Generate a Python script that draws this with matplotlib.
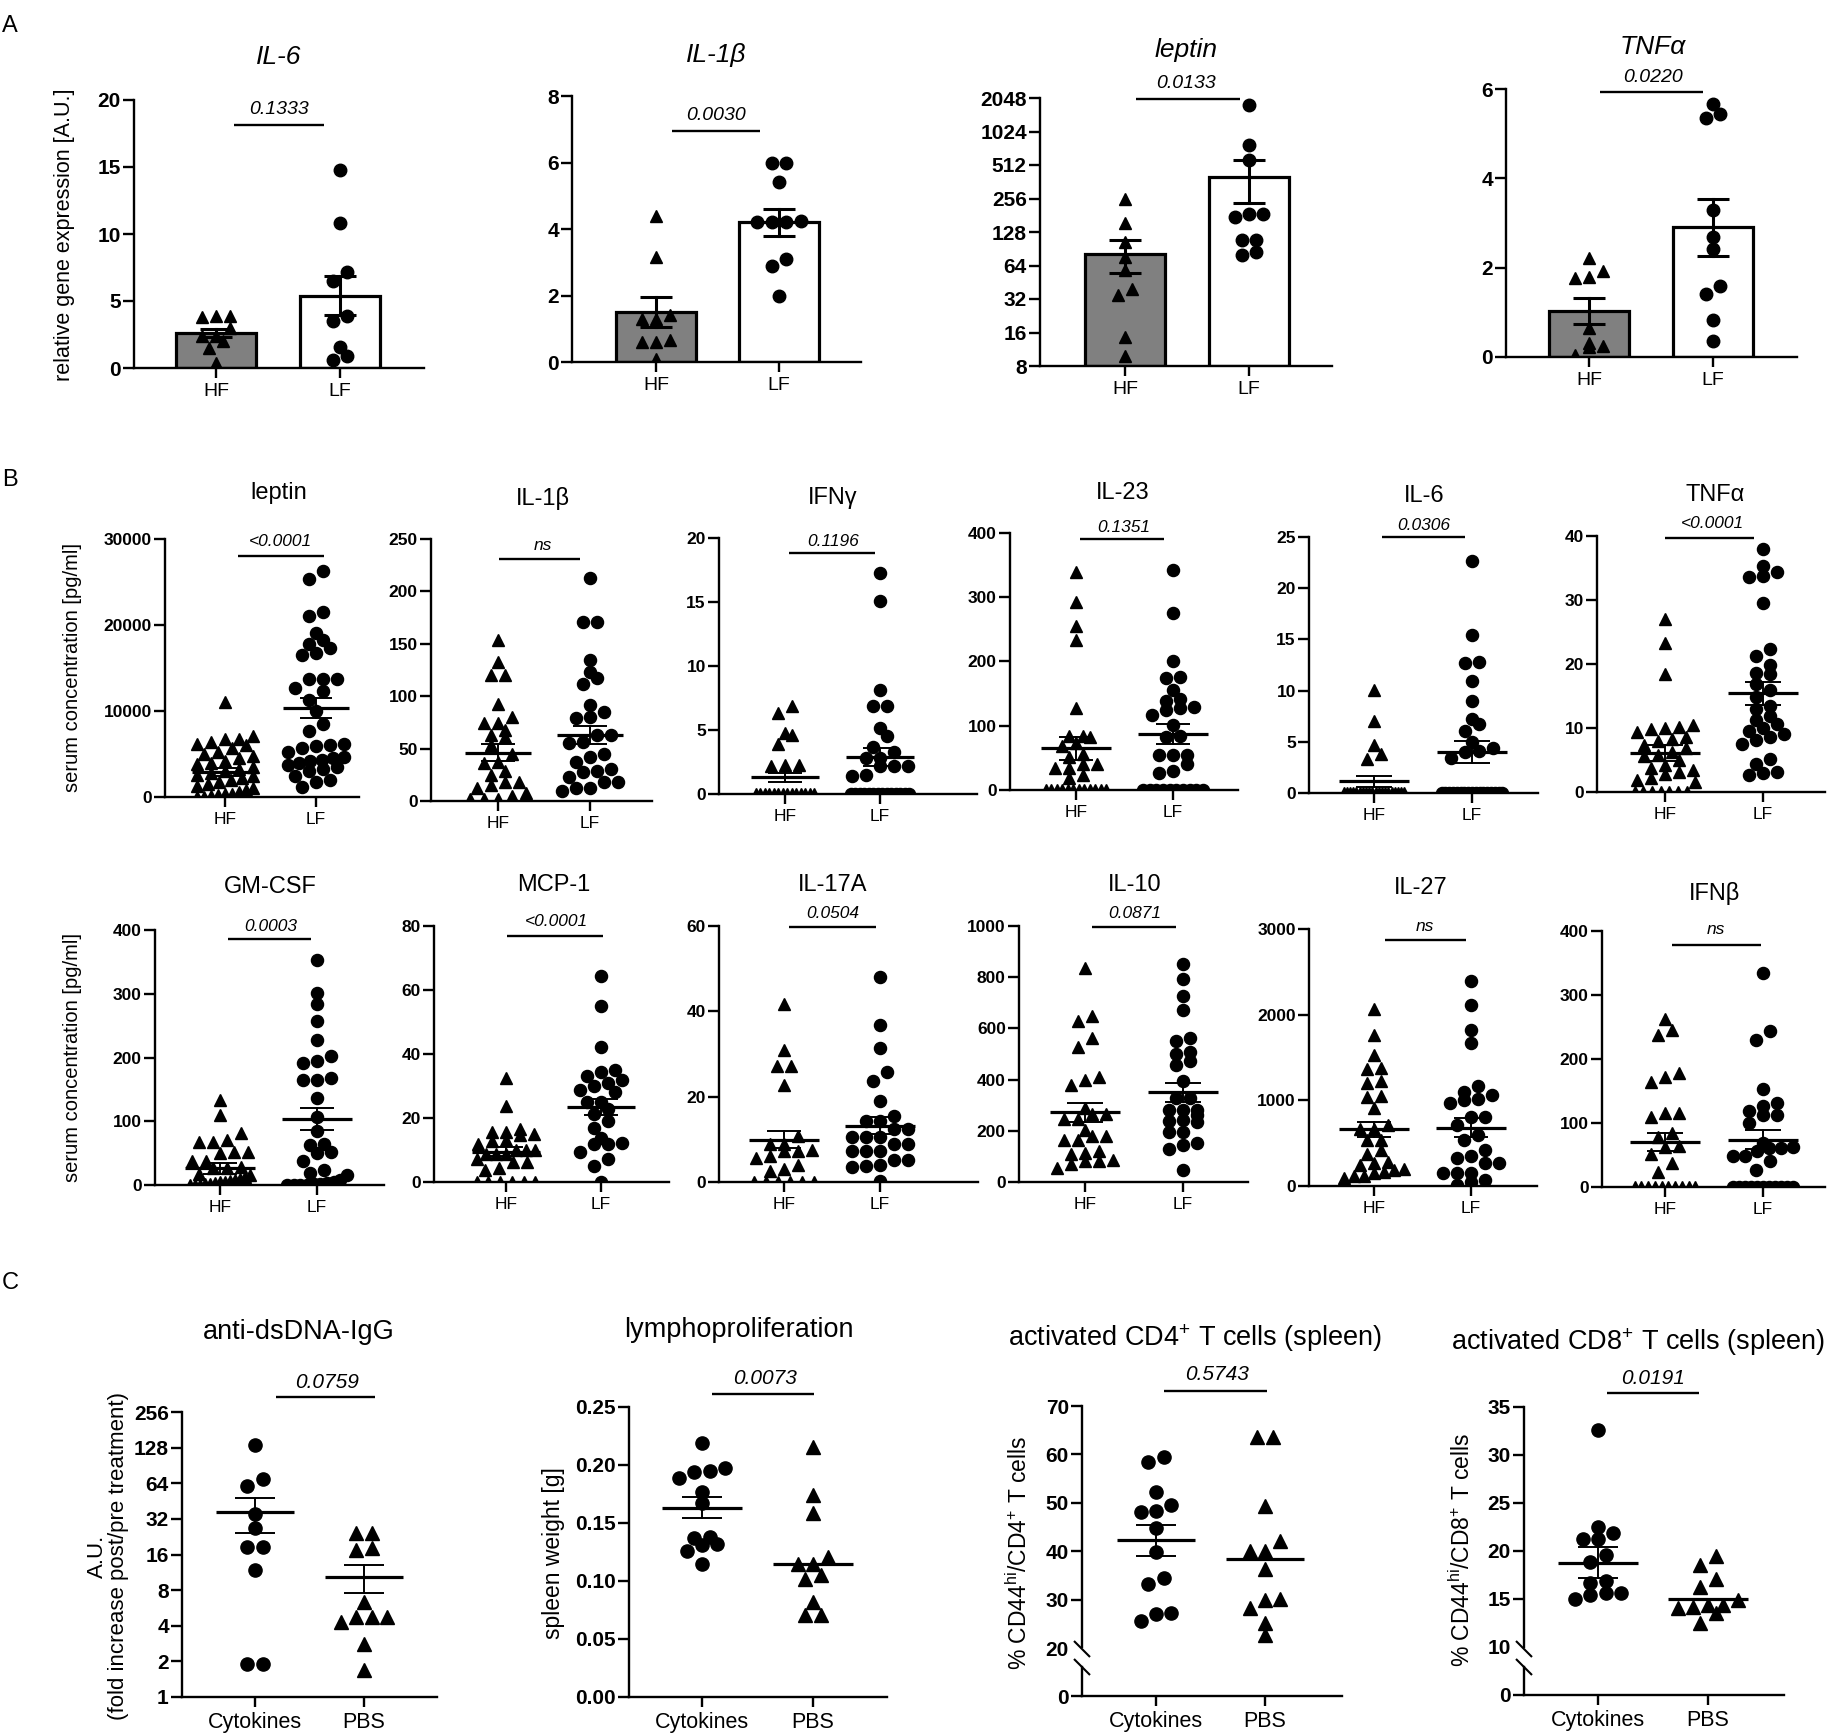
import numpy as np
import matplotlib
matplotlib.use("Agg")
import matplotlib.pyplot as plt
from matplotlib.lines import Line2D

plt.rcParams["font.family"] = ["Liberation Sans", "DejaVu Sans"]
plt.rcParams["mathtext.fontset"] = "custom"
plt.rcParams["mathtext.rm"] = "Liberation Sans"
plt.rcParams["mathtext.it"] = "Liberation Sans:italic"

W, H = 1831, 1736

# ---------------------------------------------------------------- data
# A: relative gene expression, bar = mean, whisker = SEM
a_il6_hf = [3.8, 3.9, 3.9, 3.0, 2.4, 2.4, 1.5, 2.0, 0.4]
a_il6_lf = [14.8, 10.8, 7.2, 6.5, 3.5, 3.9, 0.6, 0.9, 1.6]
a_il6_mean = [2.6, 5.4]
a_il6_sem = [0.32, 1.45]

a_il1b_hf = [4.4, 3.15, 1.3, 1.4, 1.3, 0.6, 0.65, 0.1, 0.6]
a_il1b_lf = [6.0, 6.0, 5.4, 4.2, 4.25, 4.2, 4.2, 3.1, 2.9, 2.0]
a_il1b_mean = [1.5, 4.2]
a_il1b_sem = [0.45, 0.41]

a_lep_hf = [255, 154, 104, 77, 58, 35, 39, 14.6, 9.8]
a_lep_lf = [1760, 777, 564, 175, 187, 187, 108, 108, 79, 85]
a_lep_mean = [82, 400]
a_lep_sem = [27, 168]

a_tnf_hf = [2.21, 1.77, 1.92, 1.8, 0.65, 0.31, 0.24, 0.22, 0.05]
a_tnf_lf = [5.66, 5.34, 5.44, 3.3, 2.68, 2.41, 1.42, 1.6, 0.82, 0.35]
a_tnf_mean = [1.02, 2.9]
a_tnf_sem = [0.29, 0.63]

# B: serum concentration [pg/ml], line = mean, whisker = SEM
b_lep_hf = [11100, 7100, 6800, 6700, 6400, 6200, 6000, 5700, 5200, 5000, 4800, 4500,
            4200, 4000, 3800, 3500, 3300, 3000, 2800, 2600, 2400, 2200, 2000, 1800,
            1500, 1300, 1000, 800, 600, 400, 300, 200, 100, 50, 0]
b_lep_lf = [26300, 25300, 21500, 21000, 19100, 18300, 17800, 17300, 16700, 16500,
            13700, 13700, 13700, 12700, 12300, 11300, 10000, 8500, 7700, 6200, 6000,
            5900, 5700, 5200, 4700, 4500, 4300, 4200, 4000, 3700, 3500, 3300, 3000,
            2500, 2000, 1800, 1200]
b_lep_mean = [2900, 10350]
b_lep_sem = [450, 1150]

b_il1b_hf = [154, 133, 120, 120, 93, 80, 74, 74, 68, 61, 63, 53, 45, 29, 36, 37,
             18, 18, 12, 15, 5, 2, 2, 2, 8, 25]
b_il1b_lf = [213, 171, 171, 135, 123, 112, 117, 92, 85, 79, 80, 63, 63, 56, 55, 37,
             42, 45, 31, 29, 23, 28, 18, 18, 12, 12, 10]
b_il1b_mean = [46, 63]
b_il1b_sem = [8, 9]

b_ifng_hf = [6.9, 6.3, 4.8, 4.6, 3.9, 2.2, 2.3, 2.3] + [0] * 14
b_ifng_lf = [17.3, 15.1, 8.15, 6.85, 6.85, 5.16, 4.5, 3.7, 2.8, 3.3, 2.8, 2.2, 2.2,
             2.2, 1.4, 1.5] + [0] * 14
b_ifng_mean = [1.3, 2.86]
b_ifng_sem = [0.37, 0.7]

b_il23_hf = [339, 293, 256, 234, 127, 84, 84, 83, 68, 73, 52, 56, 40, 35, 34, 40,
             18, 23] + [0] * 12
b_il23_lf = [342, 275, 201, 174, 176, 155, 141, 139, 129, 127, 117, 124, 101, 84, 82,
             54, 54, 41, 54, 30, 27] + [0] * 10
b_il23_mean = [65, 87]
b_il23_sem = [18, 16]

b_il6_hf = [10.1, 7.0, 4.7, 3.8, 3.3] + [0] * 20
b_il6_lf = [22.7, 15.4, 12.7, 12.8, 10.9, 9.0, 7.2, 6.1, 6.7, 5.0, 4.4, 4.1, 4.0,
            3.4] + [0] * 17
b_il6_mean = [1.14, 4.0]
b_il6_sem = [0.52, 1.1]

b_tnf_hf = [27.1, 23.3, 18.4, 10.4, 10.2, 10.0, 9.9, 9.4, 8.6, 8.3, 7.9, 7.4, 6.9,
            6.2, 5.8, 5.6, 5.0, 4.2, 3.8, 3.4, 3.1, 2.8, 2.2, 1.8, 1.5] + [0] * 7
b_tnf_lf = [37.9, 35.3, 34.4, 33.6, 33.8, 29.6, 22.3, 21.3, 19.9, 18.6, 18.4, 16.8,
            15.9, 14.8, 13.4, 12.9, 11.8, 11.2, 10.6, 10.0, 9.5, 9.0, 8.6, 8.2, 7.5,
            5.1, 4.4, 3.2, 3.0, 2.7]
b_tnf_mean = [6.1, 15.4]
b_tnf_sem = [1.3, 1.8]

b_gm_hf = [134, 110, 81, 68, 68, 71, 52, 50, 52, 37, 37, 26, 29, 26, 18, 15, 12, 10,
           8, 6, 5, 4, 3, 2, 1, 0, 0, 0]
b_gm_lf = [353, 301, 284, 258, 228, 202, 191, 195, 165, 168, 165, 136, 107, 84, 65,
           63, 50, 51, 37, 24, 19, 16, 8, 5, 3, 2, 1, 0, 0, 0, 0]
b_gm_mean = [26, 104]
b_gm_sem = [8, 17]

b_mcp_hf = [32.6, 23.7, 16.7, 15.6, 15.6, 14.6, 15.1, 13.2, 12.8, 12.0, 10.1, 10.1,
            10.1, 8.7, 8.9, 8.7, 6.3, 6.3, 7.3, 4.5, 3.6] + [0] * 6
b_mcp_lf = [64.3, 54.9, 42.2, 34.4, 34.9, 31.0, 31.8, 33.1, 28.2, 28.7, 29.9, 25.0,
            25.0, 22.9, 21.4, 19.1, 17.0, 12.2, 12.0, 12.0, 13.6, 9.4, 7.3, 4.9, 0]
b_mcp_mean = [9.4, 23.5]
b_mcp_sem = [1.4, 2.5]

b_il17_hf = [41.7, 31.0, 27.2, 27.2, 22.8, 10.7, 9.0, 9.0, 7.2, 7.2, 7.6, 5.6, 6.0,
             2.5, 3.0, 4.1] + [0] * 6
b_il17_lf = [48.0, 36.8, 31.5, 25.7, 23.6, 19.1, 15.4, 14.4, 14.4, 12.4, 12.4, 10.5,
             10.5, 10.5, 9.0, 9.0, 7.2, 7.2, 5.2, 7.2, 5.2, 3.5, 3.8, 4.1, 0.3]
b_il17_mean = [9.9, 13.2]
b_il17_sem = [2.0, 2.0]

b_il10_hf = [835, 627, 649, 562, 529, 380, 410, 397, 289, 267, 267, 246, 246, 204,
             181, 181, 165, 163, 120, 111, 113, 72, 87, 81, 81, 55]
b_il10_lf = [850, 792, 728, 670, 551, 562, 507, 501, 471, 458, 393, 282, 330, 328,
             282, 282, 263, 237, 233, 241, 194, 194, 152, 146, 129, 46]
b_il10_mean = [273, 351]
b_il10_sem = [37, 37]

b_il27_hf = [2065, 1765, 1530, 1364, 1375, 1200, 1220, 1045, 1036, 908, 713, 662, 662,
             538, 538, 421, 374, 284, 273, 245, 195, 168, 187, 156, 117, 90, 117]
b_il27_lf = [2388, 2115, 1823, 1675, 1169, 1064, 1102, 1013, 1005, 974, 810, 810, 713,
             596, 538, 323, 421, 351, 265, 265, 148, 156, 156, 70, 51, 12]
b_il27_mean = [662, 682]
b_il27_sem = [88, 111]

b_ifnb_hf = [263, 237, 245, 164, 178, 172, 110, 115, 115, 84, 78, 63, 64, 52, 37,
             23] + [0] * 10
b_ifnb_lf = [335, 243, 229, 153, 127, 132, 118, 113, 113, 100, 61, 69, 63, 61, 56, 48,
             48, 40, 26] + [0] * 11
b_ifnb_mean = [70, 74]
b_ifnb_sem = [14, 15]

# C: treatment experiment (Cytokines vs PBS)
c_ds_cyt = [135, 70, 61, 35, 27, 18.5, 18.5, 11.9, 1.9, 1.9]
c_ds_pbs = [24.3, 24.3, 17.4, 18.3, 6.35, 4.3, 4.7, 4.7, 4.7, 2.82, 1.68]
c_ds_mean = [36.5, 10.3]
c_ds_sem = [12, 2.7]

c_sp_cyt = [0.219, 0.194, 0.195, 0.197, 0.189, 0.177, 0.167, 0.138, 0.131, 0.132,
            0.137, 0.126, 0.115]
c_sp_pbs = [0.2155, 0.174, 0.159, 0.115, 0.115, 0.121, 0.102, 0.105, 0.082, 0.0704,
            0.0704]
c_sp_mean = [0.163, 0.1145]
c_sp_sem = [0.009, 0]

c_cd4_cyt = [59.4, 58.5, 52.3, 48.4, 48.2, 49.5, 44.9, 39.9, 34.5, 33.3, 25.7, 27.3,
             27.1]
c_cd4_pbs = [63.7, 63.6, 49.4, 42.1, 40.2, 40.1, 36.3, 30.0, 30.2, 28.4, 25.2, 22.8]
c_cd4_mean = [42.3, 38.5]
c_cd4_sem = [3.2, 0]

c_cd8_cyt = [32.6, 21.2, 21.9, 22.5, 21.3, 19.6, 18.9, 16.7, 16.9, 15.0, 15.6, 15.4,
             15.6]
c_cd8_pbs = [19.5, 18.5, 17.1, 16.2, 14.9, 14.35, 14.35, 14.1, 14.2, 12.5, 13.5]
c_cd8_mean = [18.8, 15.05]
c_cd8_sem = [1.6, 0]

# tick values / labels
groups_diet = ["HF", "LF"]
groups_trt = ["Cytokines", "PBS"]
t_a_il6 = [0, 5, 10, 15, 20]
t_a_il1b = [0, 2, 4, 6, 8]
t_a_lep = [8, 16, 32, 64, 128, 256, 512, 1024, 2048]
t_a_tnf = [0, 2, 4, 6]
t_b_lep = [0, 10000, 20000, 30000]
t_b_il1b = [0, 50, 100, 150, 200, 250]
t_b_ifng = [0, 5, 10, 15, 20]
t_b_il23 = [0, 100, 200, 300, 400]
t_b_il6 = [0, 5, 10, 15, 20, 25]
t_b_tnf = [0, 10, 20, 30, 40]
t_b_gm = [0, 100, 200, 300, 400]
t_b_mcp = [0, 20, 40, 60, 80]
t_b_il17 = [0, 20, 40, 60]
t_b_il10 = [0, 200, 400, 600, 800, 1000]
t_b_il27 = [0, 1000, 2000, 3000]
t_b_ifnb = [0, 100, 200, 300, 400]
t_c_ds = [1, 2, 4, 8, 16, 32, 64, 128, 256]
t_c_sp = [0, 0.05, 0.10, 0.15, 0.20, 0.25]
t_c_sp_lab = ["0.00", "0.05", "0.10", "0.15", "0.20", "0.25"]
t_c_cd4 = [0, 20, 30, 40, 50, 60, 70]
t_c_cd8 = [0, 10, 15, 20, 25, 30, 35]


# ---------------------------------------------------------------- helpers
fig = plt.figure(figsize=(W / 100, H / 100), dpi=100)


def ftext(x, y, s, **kw):
    kw.setdefault("ha", "center")
    kw.setdefault("va", "center")
    fig.text(x / W, 1 - y / H, s, **kw)


def fline(x0, x1, y0, y1=None, lw=1.7):
    y1 = y0 if y1 is None else y1
    fig.add_artist(Line2D([x0 / W, x1 / W], [1 - y0 / H, 1 - y1 / H],
                          transform=fig.transFigure, color="k", lw=lw,
                          solid_capstyle="butt"))


def swarm_x(ax, xc, vals, ms, maxhalf=0.31):
    """GraphPad-like row layout: points in the same row spread sideways."""
    v = np.asarray(vals, float)
    ypx = ax.transData.transform(np.column_stack([np.full(len(v), xc), v]))[:, 1]
    unit = ax.transData.transform([[1, 0]])[0, 0] - ax.transData.transform([[0, 0]])[0, 0]
    d = ms * 100 / 72
    order = np.argsort(ypx, kind="stable")
    rows, cur, base = [], [order[0]], ypx[order[0]]
    for i in order[1:]:
        if ypx[i] - base < d * 0.85:
            cur.append(i)
        else:
            rows.append(cur)
            cur, base = [i], ypx[i]
    rows.append(cur)
    offs = np.zeros(len(v))
    for row in rows:
        n = len(row)
        if n < 2:
            continue
        step = min(d * 1.15, 2 * maxhalf * unit / (n - 1))
        for k, i in enumerate(row):
            offs[i] = (k - (n - 1) / 2) * step
    return xc + offs / unit


def brk_scale(b, k):
    fwd = lambda y: np.where(y < b, y * k, b * k + (y - b))
    inv = lambda z: np.where(z < b * k, z / k, z - b * k + b)
    return fwd, inv


def make_axes(p, fs_tick, fs_x):
    L, T, R, B = p["box"]
    g0, g1 = p["g"]
    ax = fig.add_axes([L / W, 1 - B / H, (R - L) / W, (B - T) / H])
    ax.set_xlim((L - g0) / (g1 - g0), (R - g0) / (g1 - g0))
    sc = p.get("scale", "linear")
    ticks = p["yt"]
    if sc == "log2":
        ax.set_yscale("log", base=2)
    elif sc == "brk":
        ax.set_yscale("function", functions=brk_scale(*p["brk"]))
    ax.set_ylim(ticks[0], ticks[-1])
    ax.set_yticks(ticks)
    ax.set_yticklabels(p.get("ytl", [str(t) for t in ticks]),
                       fontweight="bold", fontsize=fs_tick)
    ax.minorticks_off()
    ax.set_xticks([0, 1])
    ax.set_xticklabels(p["xl"], fontsize=fs_x)
    for s in ("top", "right"):
        ax.spines[s].set_visible(False)
    for s in ("left", "bottom"):
        ax.spines[s].set_linewidth(1.7)
        ax.spines[s].set_zorder(6)
    ax.tick_params(axis="y", length=8, width=1.7, pad=1.5)
    ax.tick_params(axis="x", length=7, width=1.7, pad=4)
    ax.patch.set_alpha(0)
    return ax


def draw_text(p, fs_title, fs_p, italic_title=False):
    t, tx, ty = p["title"]
    ftext(tx, ty, t, fontsize=fs_title, style="italic" if italic_title else "normal")
    s, sx, sy = p["p"]
    ftext(sx, sy, s, fontsize=fs_p, style="italic")
    x0, x1, ly = p["line"]
    fline(x0, x1, ly)


def draw_scatter(ax, p, ms=8.7, mhalf=0.36, chalf=0.18):
    for i, (vals, mk) in enumerate(zip(p["vals"], p["mk"])):
        xs = swarm_x(ax, i, vals, ms)
        ax.plot(xs, vals, mk, ms=ms, color="k", mec="k", ls="none", zorder=3)
    for i, (m, s) in enumerate(zip(p["mean"], p["sem"])):
        ax.plot([i - mhalf, i + mhalf], [m, m], color="k", lw=2.3, zorder=5,
                solid_capstyle="butt")
        if s > 0:
            ax.plot([i, i], [m - s, m + s], color="k", lw=1.4, zorder=5)
            for yy in (m - s, m + s):
                ax.plot([i - chalf, i + chalf], [yy, yy], color="k", lw=1.4, zorder=5,
                        solid_capstyle="butt")


# ---------------------------------------------------------------- panel A
panels_a = [
    dict(box=(134, 100, 424, 368), g=(216, 340), vals=[a_il6_hf, a_il6_lf],
         mean=a_il6_mean, sem=a_il6_sem, yt=t_a_il6,
         title=("IL-6", 279, 57), p=("0.1333", 279, 110), line=(234, 324, 125)),
    dict(box=(572, 96, 861, 362), g=(656, 779), vals=[a_il1b_hf, a_il1b_lf],
         mean=a_il1b_mean, sem=a_il1b_sem, yt=t_a_il1b,
         title=("IL-1β", 716, 55), p=("0.0030", 716, 115), line=(672, 760, 131)),
    dict(box=(1040, 98, 1332, 366), g=(1125, 1249), vals=[a_lep_hf, a_lep_lf],
         mean=a_lep_mean, sem=a_lep_sem, yt=t_a_lep, scale="log2",
         title=("leptin", 1186, 50), p=("0.0133", 1186, 83), line=(1136, 1240, 99)),
    dict(box=(1506, 89, 1797, 357), g=(1589, 1713), vals=[a_tnf_hf, a_tnf_lf],
         mean=a_tnf_mean, sem=a_tnf_sem, yt=t_a_tnf,
         title=("TNFα", 1653, 47), p=("0.0220", 1653, 77), line=(1600, 1703, 92)),
]

for p in panels_a:
    p["xl"] = groups_diet
    ax = make_axes(p, 15, 14)
    base = p["yt"][0]
    ax.bar([0, 1], [m - base for m in p["mean"]], bottom=base, width=0.65,
           color=["#808080", "white"], edgecolor="k", lw=2.3, zorder=1)
    for i, (vals, mk) in enumerate(zip(p["vals"], ["^", "o"])):
        xs = swarm_x(ax, i, vals, 9)
        ax.plot(xs, vals, mk, ms=9, color="k", ls="none", zorder=3)
    for i, (m, s) in enumerate(zip(p["mean"], p["sem"])):
        ax.plot([i, i], [m - s, m + s], color="k", lw=2.2, zorder=4)
        for yy in (m - s, m + s):
            ax.plot([i - 0.13, i + 0.13], [yy, yy], color="k", lw=2.2, zorder=4,
                    solid_capstyle="butt")
    draw_text(p, 19, 14, italic_title=True)

ftext(65, 235, "relative gene expression [A.U.]", rotation=90, fontsize=15.5)

# ---------------------------------------------------------------- panel B
panels_b = [
    dict(box=(165, 539, 359, 797), g=(225, 316), vals=[b_lep_hf, b_lep_lf],
         mean=b_lep_mean, sem=b_lep_sem, yt=t_b_lep,
         title=("leptin", 279, 493), p=("<0.0001", 280, 542), line=(238, 324, 556)),
    dict(box=(431, 539, 652, 801), g=(498, 590), vals=[b_il1b_hf, b_il1b_lf],
         mean=b_il1b_mean, sem=b_il1b_sem, yt=t_b_il1b,
         title=("IL-1β", 543, 498), p=("ns", 543, 546), line=(499, 580, 559)),
    dict(box=(719, 538, 977, 794), g=(785, 880), vals=[b_ifng_hf, b_ifng_lf],
         mean=b_ifng_mean, sem=b_ifng_sem, yt=t_b_ifng,
         title=("IFNγ", 833, 498), p=("0.1196", 833, 541), line=(789, 875, 553)),
    dict(box=(1010, 533, 1238, 790), g=(1076, 1173), vals=[b_il23_hf, b_il23_lf],
         mean=b_il23_mean, sem=b_il23_sem, yt=t_b_il23,
         title=("IL-23", 1123, 493), p=("0.1351", 1124, 528), line=(1080, 1164, 539)),
    dict(box=(1309, 537, 1538, 793), g=(1374, 1472), vals=[b_il6_hf, b_il6_lf],
         mean=b_il6_mean, sem=b_il6_sem, yt=t_b_il6,
         title=("IL-6", 1424, 496), p=("0.0306", 1424, 525), line=(1382, 1465, 537)),
    dict(box=(1597, 536, 1825, 792), g=(1665, 1763), vals=[b_tnf_hf, b_tnf_lf],
         mean=b_tnf_mean, sem=b_tnf_sem, yt=t_b_tnf,
         title=("TNFα", 1715, 495), p=("<0.0001", 1712, 523), line=(1665, 1754, 538)),
    dict(box=(155, 930, 384, 1185), g=(220, 317), vals=[b_gm_hf, b_gm_lf],
         mean=b_gm_mean, sem=b_gm_sem, yt=t_b_gm,
         title=("GM-CSF", 270, 887), p=("0.0003", 271, 926), line=(228, 311, 939)),
    dict(box=(434, 926, 669, 1182), g=(506, 601), vals=[b_mcp_hf, b_mcp_lf],
         mean=b_mcp_mean, sem=b_mcp_sem, yt=t_b_mcp,
         title=("MCP-1", 554, 885), p=("<0.0001", 556, 922), line=(507, 603, 936)),
    dict(box=(719, 926, 978, 1182), g=(784, 880), vals=[b_il17_hf, b_il17_lf],
         mean=b_il17_mean, sem=b_il17_sem, yt=t_b_il17,
         title=("IL-17A", 833, 885), p=("0.0504", 833, 914), line=(789, 876, 927)),
    dict(box=(1019, 926, 1248, 1182), g=(1085, 1183), vals=[b_il10_hf, b_il10_lf],
         mean=b_il10_mean, sem=b_il10_sem, yt=t_b_il10,
         title=("IL-10", 1135, 885), p=("0.0871", 1135, 914), line=(1092, 1176, 927)),
    dict(box=(1309, 929, 1537, 1186), g=(1374, 1471), vals=[b_il27_hf, b_il27_lf],
         mean=b_il27_mean, sem=b_il27_sem, yt=t_b_il27,
         title=("IL-27", 1421, 888), p=("ns", 1425, 926), line=(1385, 1466, 940)),
    dict(box=(1602, 931, 1825, 1187), g=(1665, 1763), vals=[b_ifnb_hf, b_ifnb_lf],
         mean=b_ifnb_mean, sem=b_ifnb_sem, yt=t_b_ifnb,
         title=("IFNβ", 1715, 893), p=("ns", 1716, 930), line=(1672, 1761, 945)),
]

for p in panels_b:
    p["xl"] = groups_diet
    p["mk"] = ["^", "o"]
    ax = make_axes(p, 12.5, 12.5)
    draw_scatter(ax, p)
    draw_text(p, 17, 12.5)

ftext(73, 667, "serum concentration [pg/ml]", rotation=90, fontsize=14.5)
ftext(73, 1058, "serum concentration [pg/ml]", rotation=90, fontsize=14.5)

# ---------------------------------------------------------------- panel C
panels_c = [
    dict(box=(182, 1412, 437, 1697), g=(255, 364), vals=[c_ds_cyt, c_ds_pbs],
         mean=c_ds_mean, sem=c_ds_sem, yt=t_c_ds, scale="log2",
         title=("anti-dsDNA-IgG", 299, 1332), p=("0.0759", 327, 1382),
         line=(276, 375, 1397)),
    dict(box=(629, 1407, 887, 1697), g=(702, 813), vals=[c_sp_cyt, c_sp_pbs],
         mean=c_sp_mean, sem=c_sp_sem, yt=t_c_sp, ytl=t_c_sp_lab,
         title=("lymphoproliferation", 739, 1330), p=("0.0073", 765, 1379),
         line=(712, 814, 1394)),
    dict(box=(1082, 1406, 1342, 1696), g=(1156, 1265), vals=[c_cd4_cyt, c_cd4_pbs],
         mean=c_cd4_mean, sem=c_cd4_sem, yt=t_c_cd4, scale="brk", brk=(20, 0.49),
         title=("activated CD4$^{+}$ T cells (spleen)", 1195, 1338),
         p=("0.5743", 1217, 1375), line=(1164, 1267, 1391)),
    dict(box=(1524, 1407, 1784, 1695), g=(1598, 1708), vals=[c_cd8_cyt, c_cd8_pbs],
         mean=c_cd8_mean, sem=c_cd8_sem, yt=t_c_cd8, scale="brk", brk=(10, 0.5),
         title=("activated CD8$^{+}$ T cells (spleen)", 1638, 1342),
         p=("0.0191", 1653, 1378), line=(1607, 1699, 1393)),
]

for p in panels_c:
    p["xl"] = groups_trt
    p["mk"] = ["o", "^"]
    ax = make_axes(p, 15, 15.5)
    draw_scatter(ax, p, ms=9.5)
    draw_text(p, 19.5, 15)
    if p.get("scale") == "brk":
        # broken y axis: gap with two slashes just below the second tick
        L, T, R, B = p["box"]
        ax.spines["left"].set_visible(False)
        hgt = B - T
        ax.plot([0, 0], [(B - 1647) / hgt, 1], transform=ax.transAxes, color="k",
                lw=1.7, clip_on=False, zorder=6)
        ax.plot([0, 0], [0, (B - 1667) / hgt], transform=ax.transAxes, color="k",
                lw=1.7, clip_on=False, zorder=6)
        for yc in (1649, 1667):
            fline(L - 8, L + 8, yc - 8, yc + 8, lw=1.5)
        ax.yaxis.get_major_ticks()[1].tick1line.set_visible(False)

ftext(108, 1556, "A.U.\n(fold increase post/pre treatment)", rotation=90,
      fontsize=16, linespacing=1.05)
ftext(554, 1553, "spleen weight [g]", rotation=90, fontsize=16.5)
ftext(1019, 1553, "% CD44$^{\\mathrm{hi}}$/CD4$^{+}$ T cells", rotation=90, fontsize=16.5)
ftext(1462, 1550, "% CD44$^{\\mathrm{hi}}$/CD8$^{+}$ T cells", rotation=90, fontsize=16.5)

# panel letters
for letter, y in (("A", 26), ("B", 480), ("C", 1283)):
    ftext(10, y, letter, fontsize=17,
          family=["Liberation Sans Narrow", "Liberation Sans"])

fig.savefig("out.png", dpi=100)
